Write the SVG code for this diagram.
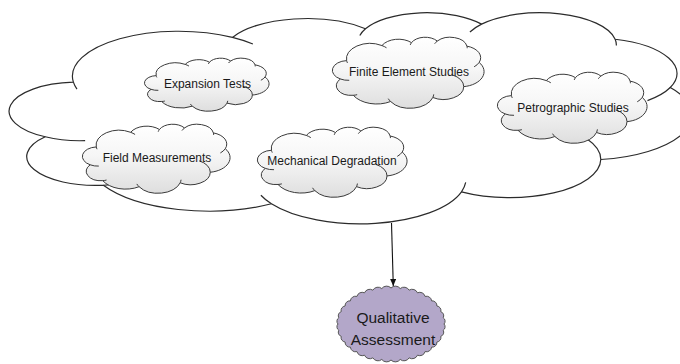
<svg xmlns="http://www.w3.org/2000/svg" xmlns:xlink="http://www.w3.org/1999/xlink" width="680" height="364" viewBox="0 0 680 364">
  <style>
    .big .outline { fill: #ffffff; stroke: #2b2b2b; stroke-width: 1.2; }
    .big .tails { fill: none; stroke: #2b2b2b; stroke-width: 1.2; }
    .small .outline { fill: url(#cloudFill); stroke: #3a3a3a; stroke-width: 1; }
    .small .tails { fill: none; stroke: #3a3a3a; stroke-width: 1; }
    .label { font-family: "Liberation Sans", Arial, sans-serif; font-size: 12px; fill: #1a1a1a; text-anchor: middle; }
    .result { font-family: "Liberation Sans", Arial, sans-serif; font-size: 15.5px; fill: #1a1a1a; text-anchor: middle; }
    .connector { stroke: #111111; stroke-width: 1.1; fill: none; }
  </style>
  <defs>
    <linearGradient id="cloudFill" x1="0" y1="0" x2="0" y2="1">
      <stop offset="0" stop-color="#ffffff"/>
      <stop offset="0.45" stop-color="#f6f6f6"/>
      <stop offset="1" stop-color="#dedede"/>
    </linearGradient>
    <!-- cloud outline on a 43200 x 43200 grid -->
    <path id="cloudShape" vector-effect="non-scaling-stroke" stroke-linejoin="round" d="M3900 14370 A6753 9190 0 0 1 14004.8 5202 A5333 7267 0 0 1 22455.5 3432.2 A4365 5945 0 0 1 29832.4 2480.7 A4857 6595 0 0 1 38317.6 5576 A5333 7273 0 0 1 41817.9 15460.1 A6775 9220 0 0 1 37403.8 30203.4 A5785 7867 0 0 1 28555.6 36813.7 A6752 9215 0 0 1 16480 39264.3 A7720 10543 0 0 1 5804.5 35470.2 A4360 5918 0 0 1 2113.2 25548.4 A4345 5945 0 0 1 3900 14370 Z"/>
    <!-- short inner arcs where the lobes overlap -->
    <path id="cloudTails" vector-effect="non-scaling-stroke" d="M4646 26345 A4345 5945 0 0 1 2113.2 25548.4 M6912.7 35088.9 A4360 5918 0 0 1 5804.5 35470.2 M16480 39264.3 A6752 9215 0 0 1 15811.9 37523.7 M28822.2 34904.2 A6752 9215 0 0 1 28555.6 36813.7 M34153 23069 A5785 7867 0 0 1 37403.8 30203.4 M41817.9 15460.1 A5333 7273 0 0 1 40370.3 18135.2 M38317.6 5576 A4857 6595 0 0 1 38394 6839.5 M29090.5 4093.1 A4857 6595 0 0 1 29832.4 2480.7 M22096.4 4821.5 A4365 5945 0 0 1 22455.5 3432.2 M14004.8 5202 A6753 9190 0 0 1 15304.9 6550.5 M4127 15789 A6753 9190 0 0 1 3900 14370"/>
    <marker id="arrowHead" viewBox="0 0 7 6" refX="7" refY="3" markerWidth="7" markerHeight="6" markerUnits="userSpaceOnUse" orient="auto">
      <path d="M0 0 L7 3 L0 6 Z" fill="#111111"/>
    </marker>
  </defs>

  <!-- large enclosing cloud -->
  <g id="research-cloud" class="big" transform="translate(12 12) scale(0.015741 0.0048843)">
    <use xlink:href="#cloudShape" class="outline"/>
    <use xlink:href="#cloudTails" class="tails"/>
  </g>

  <g id="expansion-tests" class="small">
    <g transform="translate(145 58) scale(0.0028704 0.0012269)">
      <use xlink:href="#cloudShape" class="outline"/>
      <use xlink:href="#cloudTails" class="tails"/>
    </g>
    <text class="label" x="207.5" y="87.5">Expansion Tests</text>
  </g>

  <g id="finite-element-studies" class="small">
    <g transform="translate(333 37) scale(0.0034954 0.0016435)">
      <use xlink:href="#cloudShape" class="outline"/>
      <use xlink:href="#cloudTails" class="tails"/>
    </g>
    <text class="label" x="409" y="76">Finite Element Studies</text>
  </g>

  <g id="petrographic-studies" class="small">
    <g transform="translate(498 72) scale(0.0034491 0.0016435)">
      <use xlink:href="#cloudShape" class="outline"/>
      <use xlink:href="#cloudTails" class="tails"/>
    </g>
    <text class="label" x="573" y="111.5">Petrographic Studies</text>
  </g>

  <g id="field-measurements" class="small">
    <g transform="translate(83 124) scale(0.0034028 0.0015972)">
      <use xlink:href="#cloudShape" class="outline"/>
      <use xlink:href="#cloudTails" class="tails"/>
    </g>
    <text class="label" x="157" y="162">Field Measurements</text>
  </g>

  <g id="mechanical-degradation" class="small">
    <g transform="translate(258 127) scale(0.0034491 0.0016204)">
      <use xlink:href="#cloudShape" class="outline"/>
      <use xlink:href="#cloudTails" class="tails"/>
    </g>
    <text class="label" x="332" y="165">Mechanical Degradation</text>
  </g>

  <!-- connector -->
  <g id="connectors">
    <line class="connector" x1="391.5" y1="223" x2="393.3" y2="286" marker-end="url(#arrowHead)"/>
  </g>

  <!-- scalloped result node: 36 small bulges around an ellipse -->
  <g id="qualitative-assessment">
    <path fill="#b3a7c9" stroke="#555555" stroke-width="1" stroke-linejoin="round" d="M444 324
      A4.1 4.1 0 0 1 443.19 330.25 A4.2 4.2 0 0 1 440.8 336.31 A4.5 4.5 0 0 1 436.9 342 A4.8 4.8 0 0 1 431.6 347.14 A5.1 5.1 0 0 1 425.07 351.58 A5.4 5.4 0 0 1 417.5 355.18 A5.7 5.7 0 0 1 409.13 357.83 A5.9 5.9 0 0 1 400.2 359.45 A6 6 0 0 1 391 360
      A6 6 0 0 1 381.8 359.45 A5.9 5.9 0 0 1 372.87 357.83 A5.7 5.7 0 0 1 364.5 355.18 A5.4 5.4 0 0 1 356.93 351.58 A5.1 5.1 0 0 1 350.4 347.14 A4.8 4.8 0 0 1 345.1 342 A4.5 4.5 0 0 1 341.2 336.31 A4.2 4.2 0 0 1 338.81 330.25 A4.1 4.1 0 0 1 338 324
      A4.1 4.1 0 0 1 338.81 317.75 A4.2 4.2 0 0 1 341.2 311.69 A4.5 4.5 0 0 1 345.1 306 A4.8 4.8 0 0 1 350.4 300.86 A5.1 5.1 0 0 1 356.93 296.42 A5.4 5.4 0 0 1 364.5 292.82 A5.7 5.7 0 0 1 372.87 290.17 A5.9 5.9 0 0 1 381.8 288.55 A6 6 0 0 1 391 288
      A6 6 0 0 1 400.2 288.55 A5.9 5.9 0 0 1 409.13 290.17 A5.7 5.7 0 0 1 417.5 292.82 A5.4 5.4 0 0 1 425.07 296.42 A5.1 5.1 0 0 1 431.6 300.86 A4.8 4.8 0 0 1 436.9 306 A4.5 4.5 0 0 1 440.8 311.69 A4.2 4.2 0 0 1 443.19 317.75 A4.1 4.1 0 0 1 444 324 Z"/>
    <text class="result" x="393" y="322.5">Qualitative</text>
    <text class="result" x="393" y="344.5">Assessment</text>
  </g>
</svg>
